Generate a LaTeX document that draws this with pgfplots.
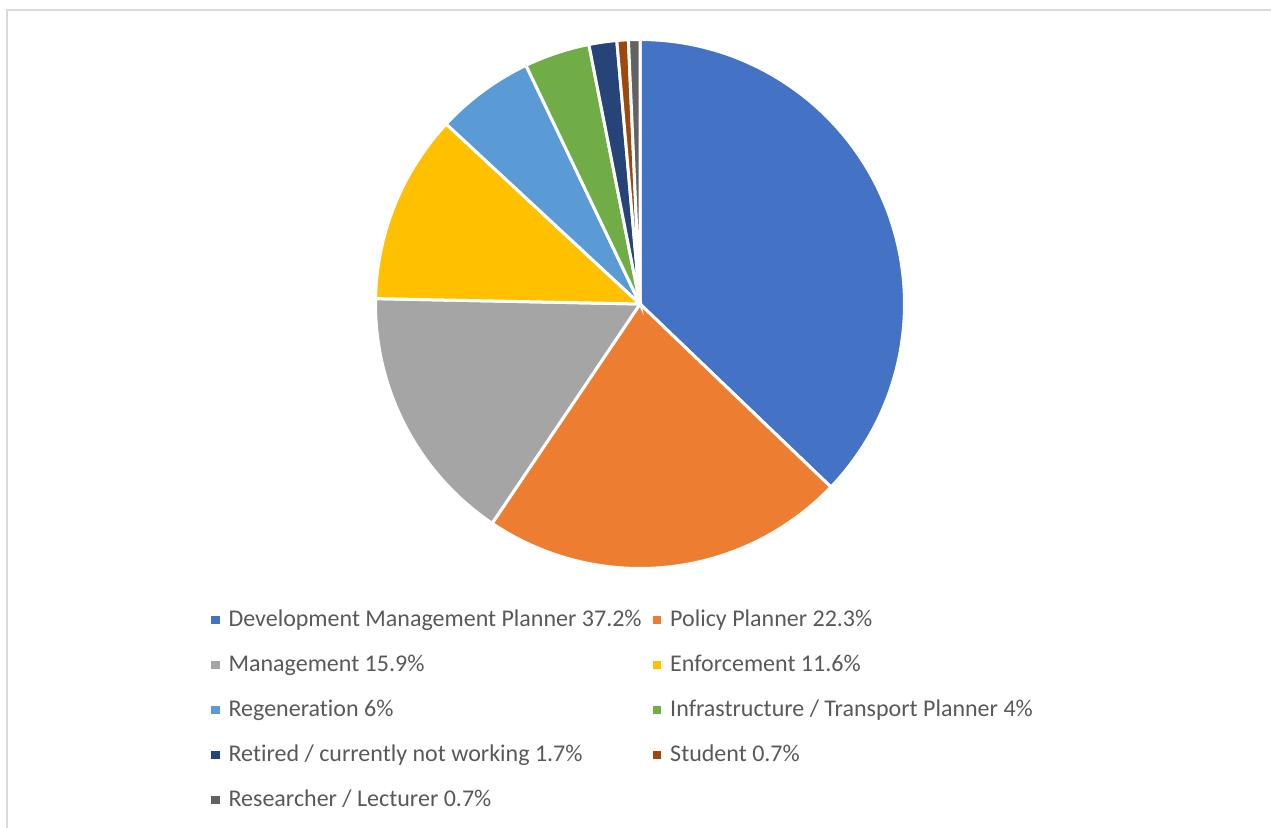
\documentclass[border=0pt]{standalone}
\usepackage{pgfplots}
\pgfplotsset{compat=1.18}
\usepackage{pgfplotstable}
\usepackage{fontspec}
\setmainfont{Carlito}[Ligatures=NoCommon]
\definecolor{pie0}{HTML}{4472C4}
\definecolor{pie1}{HTML}{ED7D31}
\definecolor{pie2}{HTML}{A5A5A5}
\definecolor{pie3}{HTML}{FFC000}
\definecolor{pie4}{HTML}{5B9BD5}
\definecolor{pie5}{HTML}{70AD47}
\definecolor{pie6}{HTML}{264478}
\definecolor{pie7}{HTML}{9E480E}
\definecolor{pie8}{HTML}{636363}
\definecolor{textgray}{HTML}{595959}
\definecolor{bordergray}{HTML}{D9D9D9}

\pgfplotstableread{
value
37.2
22.3
15.9
11.6
6
4
1.7
0.7
0.7
}\piedata

\begin{document}
\begin{tikzpicture}
\path[use as bounding box] (0,0) rectangle (635.5pt,413.5pt);
\draw[color=bordergray, line width=1pt] (3.5pt,-2pt) -- (3.5pt,408.5pt) -- (640pt,408.5pt);
\gdef\total{0}
\pgfplotsforeachungrouped \i in {0,...,8}{%
  \pgfplotstablegetelem{\i}{value}\of\piedata
  \pgfmathsetmacro\tmp{\total+\pgfplotsretval}%
  \xdef\total{\tmp}%
}
\begin{axis}[
  at={(320pt,261.5pt)}, anchor=center,
  scale only axis, width=264.5pt, height=264.5pt,
  xmin=-1, xmax=1, ymin=-1, ymax=1,
  hide axis, clip=false,
  legend columns=2,
  legend image code/.code={\fill[#1, draw=none] (0pt,0.9pt) rectangle (4.3pt,5.2pt);},
  legend style={draw=none, fill=none, inner sep=0pt, outer sep=0pt,
    at={(-0.311,-0.0747)}, anchor=north west,
    font=\fontsize{12}{14.4}\selectfont,
    cells={anchor=base west},
    nodes={text=textgray, inner xsep=0pt, inner ysep=0pt, text height=9pt, text depth=3pt},
    row sep=10.5pt,
    /tikz/every odd column/.append style={column sep=4.5pt},
    /tikz/every even column/.append style={column sep=5.5pt}},
  legend entries={
    {Development Management Planner 37.2\%},
    {Policy Planner 22.3\%},
    {Management 15.9\%},
    {Enforcement 11.6\%},
    {Regeneration 6\%},
    {Infrastructure / Transport Planner 4\%},
    {Retired / currently not working 1.7\%},
    {Student 0.7\%},
    {Researcher / Lecturer 0.7\%}},
]
\xdef\angstart{90}
\pgfplotsforeachungrouped \i in {0,...,8}{%
  \pgfplotstablegetelem{\i}{value}\of\piedata
  \pgfmathsetmacro\angend{\angstart-360*\pgfplotsretval/\total}%
  \xdef\angend{\angend}%
  \edef\temp{\noexpand\addplot[color=pie\i, fill=pie\i, draw=white, line width=1.5pt,
     domain=\angend:\angstart, samples=100]
     ({cos(x)},{sin(x)}) -- (axis cs:0,0) -- cycle;}%
  \temp
  \xdef\angstart{\angend}%
}
\end{axis}
\end{tikzpicture}
\end{document}
